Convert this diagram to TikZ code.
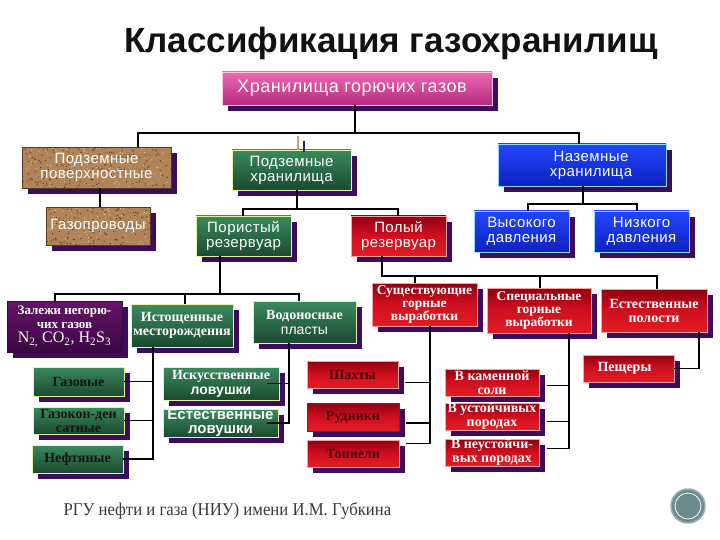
\documentclass[tikz,border=0pt]{standalone}
\usepackage{fontspec}
\setmainfont{Liberation Serif}
\setsansfont{Liberation Sans}
\usetikzlibrary{shadows}
\pgfdeclarelayer{bg}
\pgfsetlayers{bg,main}
\definecolor{shd}{HTML}{3D0C5C}
\definecolor{magT}{HTML}{EC6AB4}
\definecolor{magB}{HTML}{B8287C}
\definecolor{magE}{HTML}{F8C8E4}
\definecolor{grnT}{HTML}{3A8A5C}
\definecolor{grnB}{HTML}{1B4A30}
\definecolor{grnE}{HTML}{E6F2A8}
\definecolor{redT}{HTML}{900010}
\definecolor{redM}{HTML}{D01020}
\definecolor{redB}{HTML}{E41C24}
\definecolor{redE}{HTML}{FFA0A0}
\definecolor{bluT}{HTML}{2246FF}
\definecolor{bluB}{HTML}{0C22C0}
\definecolor{bluE}{HTML}{90D8FF}
\definecolor{purT}{HTML}{641468}
\definecolor{purB}{HTML}{3C0644}
\definecolor{granF}{HTML}{B08458}
\definecolor{granD}{HTML}{5E3E22}
\definecolor{granL}{HTML}{E0C8A0}
\definecolor{granE}{HTML}{5A3A20}
\definecolor{dk}{HTML}{141414}
\definecolor{dkr}{HTML}{4A0808}
\definecolor{ttl}{HTML}{111111}
\definecolor{ftc}{HTML}{3A3A3A}
\definecolor{tanl}{HTML}{C8A070}
\definecolor{navl}{HTML}{1C2A5C}
\definecolor{cirF}{HTML}{6D8B8D}
\definecolor{cirE}{HTML}{9AAEB0}
\newcommand\sfA{\sffamily\fontsize{15}{15}\selectfont\addfontfeatures{LetterSpace=3}}
\newcommand\rmB{\rmfamily\bfseries\fontsize{14}{14}\selectfont}
\newcommand\rmC{\rmfamily\bfseries\fontsize{13.5}{13}\selectfont}
\newcommand\bxat[7]{\node[#2, minimum width={(#5)-(#3)}, minimum height={(#6)-(#4)}, anchor=north west] (#1) at (#3,#4) {#7};}
\newcommand\cn[1]{%
  \begin{pgfonlayer}{bg}\begin{scope}[transform canvas={shift={(6pt,-6pt)}}]\draw[shl] #1;\end{scope}\end{pgfonlayer}%
  \draw[bkl] #1;}
\tikzset{
  bx/.style={rectangle, inner sep=0pt, outer sep=0pt, align=center, text=white,
    drop shadow={shadow xshift=6pt, shadow yshift=-6pt, fill=shd, opacity=1}},
  mag/.style={bx, top color=magT, bottom color=magB, draw=magE, line width=0.8pt},
  grn/.style={bx, top color=grnT, bottom color=grnB, draw=grnE, line width=0.8pt},
  red/.style={bx, top color=redT, bottom color=redB, middle color=redM, draw=redE, line width=0.6pt},
  blu/.style={bx, top color=bluT, bottom color=bluB, draw=bluE, line width=0.8pt},
  pur/.style={bx, top color=purT, bottom color=purB, draw=purB, line width=0.6pt},
  gran/.style={bx, fill=granF, draw=granE, line width=0.8pt,
    path picture={\pgfmathsetseed{7}%
      \foreach \i in {1,...,260}{\fill[granD] ([xshift=rnd*170, yshift=-rnd*48]path picture bounding box.north west) circle (0.7pt);}%
      \foreach \i in {1,...,160}{\fill[granL] ([xshift=rnd*170, yshift=-rnd*48]path picture bounding box.north west) circle (0.6pt);}}},
  bkl/.style={draw=black, line width=1.1pt},
  shl/.style={draw=shd, line width=1.1pt}
}
\begin{document}
\begin{tikzpicture}[x=1pt,y=-1pt]
\useasboundingbox[fill=white] (0,0) rectangle (720,540);
\node[font=\sffamily\bfseries\fontsize{35}{40}\selectfont, text=ttl] (title) at (391,43) {Классификация газохранилищ};
% level 1-2
\bxat{top}{mag, font=\sffamily\fontsize{18}{20}\selectfont\addfontfeatures{LetterSpace=3}}{222}{72}{492}{105}{Хранилища горючих газов\hspace{10pt}}
\bxat{pp}{gran, font=\sfA}{22}{147}{171}{188}{Подземные\\поверхностные\hspace{8pt}}
\bxat{gp}{gran, font=\sfA}{46}{207}{150}{245}{Газопроводы}
\bxat{ph}{grn, font=\sfA}{232}{150}{351}{190}{Подземные\\хранилища}
\bxat{nh}{blu, font=\sfA}{498}{144}{666}{186}{\hspace{18pt}Наземные\\\hspace{18pt}хранилища}
\bxat{por}{grn, font=\sfA}{196}{216}{291}{256}{Пористый\\резервуар}
\bxat{pol}{red, font=\sfA}{351}{216}{446}{256}{Полый\\резервуар}
\bxat{vd}{blu, font=\sfA}{474}{211}{569}{252}{Высокого\\давления}
\bxat{nd}{blu, font=\sfA}{594}{211}{689}{252}{Низкого\\давления}
% level 3
\bxat{zal}{pur, font=\rmfamily\bfseries\fontsize{13}{13.5}\selectfont}{7}{301}{122}{352}{Залежи негорю-\\чих газов\\[1pt]{\fontsize{16}{14}\selectfont\mdseries N\textsubscript{2,} CO\textsubscript{2}, H\textsubscript{2}S\textsubscript{3}}}
\bxat{ist}{grn, font=\rmB}{131}{304}{233}{347}{Истощенные\\месторождения}
\bxat{vod}{grn, font=\rmB}{253}{301}{356}{343}{Водоносные\\[1pt]{\sffamily\mdseries пласты}}
\bxat{sus}{red, font=\rmC}{372}{283}{477}{326}{Существующие\\горные\\выработки}
\bxat{spe}{red, font=\rmC}{487}{288}{591}{333}{Специальные\\горные\\выработки}
\bxat{est}{red, font=\rmB}{601}{289}{707}{332}{Естественные\\полости}
% level 4
\bxat{gaz}{grn, font=\rmB, text=dk}{33}{367}{124}{396}{Газовые}
\bxat{gk}{grn, font=\rmB, text=dk}{33}{407}{124}{434}{Газокон-ден\\сатные}
\bxat{nef}{grn, font=\rmB, text=dk}{32}{445}{123}{473}{Нефтяные}
\bxat{isk}{grn, font=\rmB}{163}{367}{279}{400}{Искусственные\\[1pt]{\sffamily ловушки}}
\bxat{estl}{grn, font=\sffamily\bfseries\fontsize{15}{14.5}\selectfont}{163}{409}{278}{437}{Естественные\\ловушки}
\bxat{sha}{red, font=\rmB, text=dkr}{307}{361}{398}{388}{Шахты}
\bxat{rud}{red, font=\rmB, text=dkr, draw=black!75}{307}{403}{399}{431}{Рудники}
\bxat{ton}{red, font=\rmB, text=dkr}{307}{440}{399}{467}{Тоннели}
\bxat{kam}{red, font=\rmB}{445}{369}{539}{396}{В каменной\\соли}
\bxat{ust}{red, font=\rmB}{445}{403}{539}{430}{В устойчивых\\породах}
\bxat{neu}{red, font=\rmB}{445}{439}{539}{466}{В неустойчи-\\вых породах}
\bxat{pes}{red, font=\rmB}{583}{355}{674}{382}{Пещеры\hspace{8pt}}
% connectors
\cn{([xshift=-2]top.south) -- ++(0,28) -| ([xshift=116]pp.north west)}
\cn{([xshift=-2]top.south) -- ++(0,28) -| ([xshift=81]nh.north west)}
\draw[draw=tanl, line width=1.6pt] ([xshift=66]ph.north west) -- ++(0,-14);
\draw[draw=navl, line width=1.6pt] ([xshift=72,yshift=-2]ph.north west) -- ++(0,-11);
\cn{([xshift=78]pp.south west) -- ([xshift=54]gp.north west)}
\cn{([xshift=65]ph.south west) -- ++(0,19) -| ([xshift=47]por.north west)}
\cn{([xshift=65]ph.south west) -- ++(0,19) -| ([xshift=47]pol.north west)}
\cn{([xshift=85]nh.south west) -- ++(0,18) -| ([xshift=54]vd.north west)}
\cn{([xshift=85]nh.south west) -- ++(0,18) -| ([xshift=43]nd.north west)}
\cn{([xshift=24]por.south west) -- ++(0,38) -| ([xshift=48]zal.north west)}
\cn{([xshift=24]por.south west) -- ++(0,38) -| ([xshift=54]ist.north west)}
\cn{([xshift=24]por.south west) -- ++(0,38) -| ([xshift=46]vod.north west)}
\cn{([xshift=31]pol.south west) -- ++(0,20) -| ([xshift=43]sus.north west)}
\cn{([xshift=31]pol.south west) -- ++(0,20) -| ([xshift=53]spe.north west)}
\cn{([xshift=31]pol.south west) -- ++(0,20) -| ([xshift=56]est.north west)}
\cn{([xshift=22]ist.south west) |- (gaz.east)}
\cn{([xshift=22]ist.south west) |- (gk.east)}
\cn{([xshift=22]ist.south west) |- (nef.east)}
\cn{([xshift=36]vod.south west) |- ([xshift=-12]isk.east)}
\cn{([xshift=36]vod.south west) |- ([xshift=-11]estl.east)}
\cn{([xshift=58]sus.south west) |- ([xshift=7,yshift=-8]sha.east)}
\cn{([xshift=58]sus.south west) |- ([xshift=7,yshift=-6]rud.east)}
\cn{([xshift=58]sus.south west) |- ([xshift=7,yshift=10]ton.east)}
\cn{([xshift=82]spe.south west) |- ([xshift=8,yshift=-3]kam.east)}
\cn{([xshift=82]spe.south west) |- ([xshift=8,yshift=-5]ust.east)}
\cn{([xshift=82]spe.south west) |- ([xshift=8,yshift=4]neu.east)}
\cn{([xshift=98]est.south west) |- (pes.east)}
% footer
\node[font=\rmfamily\fontsize{18}{20}\selectfont, text=ftc, anchor=west] (foot) at (60,511) {\scalebox{0.93}[1]{РГУ нефти и газа (НИУ) имени И.М. Губкина}};
\node[circle, minimum size=34pt, inner sep=0pt, fill=cirF, draw=cirE, line width=1.5pt] (cir) at (688,506) {};
\draw[white, line width=0.8pt] (cir.center) circle (13pt);
\end{tikzpicture}
\end{document}
